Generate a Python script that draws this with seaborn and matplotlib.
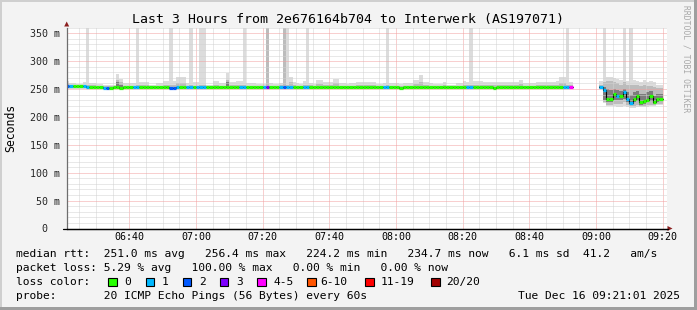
import numpy as np
import pandas as pd
import matplotlib
matplotlib.use("Agg")
import matplotlib.pyplot as plt
import seaborn as sns
from matplotlib.patches import Rectangle, Polygon
from matplotlib.ticker import MultipleLocator

nan = np.nan

# ---------------- data (one bin per minute, first bin starts 06:21) ----------------
first_minute = 21  # minutes after 06:00

median = [
    255, 255, 255, 255, 255, 255, 254, 253, 253, 253,
    253, 252, 252, 252, 253, 253, 252, 253, 253, 253,
    253, 253, 253, 253, 253, 253, 253, 253, 253, 253,
    253, 252, 252, 253, 253, 253, 253, 253, 253, 253,
    253, 253, 253, 253, 253, 253, 253, 253, 254, 253,
    253, 253, 253, 253, 253, 253, 253, 253, 253, 253,
    253, 253, 253, 253, 253, 253, 253, 253, 253, 253,
    253, 253, 253, 253, 253, 253, 253, 253, 253, 253,
    254, 254, 254, 253, 254, 253, 254, 253, 253, 253,
    253, 253, 253, 253, 253, 253, 253, 253, 253, 253,
    252, 253, 253, 253, 253, 253, 253, 253, 253, 253,
    253, 253, 254, 254, 253, 253, 253, 253, 253, 253,
    253, 253, 253, 253, 253, 253, 253, 253, 252, 253,
    253, 253, 253, 253, 253, 253, 253, 253, 254, 254,
    253, 253, 253, 253, 253, 253, 253, 253, 253, 253,
    253, 253, nan, nan, nan, nan, nan, nan, nan, nan,
    254, 249, 232, 232, 241, 238, 238, 245, 232, 225,
    232, 237, 227, 229, 231, 237, 227, 233, 233,
]

loss = [
    2, 1, 0, 0, 0, 1, 1, 0, 0, 0,
    0, 1, 2, 0, 0, 0, 0, 0, 0, 0,
    1, 1, 0, 0, 0, 0, 0, 0, 0, 0,
    0, 2, 2, 1, 0, 0, 1, 1, 0, 1,
    1, 1, 0, 0, 0, 0, 0, 0, 0, 0,
    0, 0, 1, 1, 0, 0, 0, 0, 0, 1,
    3, 0, 0, 0, 1, 2, 1, 1, 0, 0,
    0, 1, 1, 0, 0, 0, 0, 0, 0, 0,
    0, 0, 0, 0, 0, 0, 0, 0, 0, 0,
    0, 0, 0, 0, 0, 1, 1, 0, 0, 0,
    0, 0, 0, 0, 0, 0, 0, 0, 0, 0,
    0, 0, 0, 0, 0, 0, 0, 0, 0, 0,
    1, 1, 0, 0, 0, 0, 0, 0, 0, 0,
    0, 0, 0, 0, 0, 0, 0, 0, 0, 0,
    0, 0, 0, 0, 0, 0, 0, 0, 0, 1,
    1, 4, nan, nan, nan, nan, nan, nan, nan, nan,
    1, 1, 0, 0, 0, 1, 0, 1, 1, 1,
    0, 0, 0, 0, 0, 0, 0, 0, 0,
]

# outer (lightest) smoke band
smoke_hi = [
    265, 261, 261, 259, 259, 263, 360, 261, 261, 259,
    259, 258, 258, 258, 258, 277, 268, 260, 260, 260,
    260, 360, 262, 262, 262, 258, 258, 260, 260, 264,
    264, 360, 264, 272, 272, 272, 261, 360, 262, 262,
    360, 360, 258, 257, 264, 264, 260, 260, 278, 262,
    262, 265, 265, 360, 261, 261, 261, 259, 259, 259,
    360, 260, 259, 259, 261, 360, 360, 272, 262, 261,
    259, 264, 360, 261, 259, 267, 267, 262, 262, 262,
    268, 268, 261, 260, 259, 261, 260, 262, 262, 262,
    263, 263, 263, 259, 259, 261, 360, 261, 261, 261,
    259, 261, 261, 261, 266, 266, 275, 262, 262, 260,
    259, 259, 259, 262, 257, 257, 257, 261, 261, 264,
    262, 360, 265, 265, 265, 263, 263, 263, 262, 262,
    262, 262, 262, 262, 262, 262, 266, 261, 261, 261,
    261, 263, 262, 262, 262, 262, 262, 265, 272, 272,
    360, 262, nan, nan, nan, nan, nan, nan, nan, nan,
    264, 360, 271, 272, 270, 268, 266, 360, 265, 360,
    266, 265, 262, 266, 263, 264, 262, 258, 257,
]
smoke_lo = [
    250, 250, 250, 250, 250, 250, 250, 250, 250, 250,
    250, 250, 250, 250, 250, 250, 250, 250, 250, 250,
    250, 250, 250, 250, 250, 250, 250, 250, 250, 250,
    250, 250, 250, 250, 250, 250, 250, 250, 250, 250,
    250, 250, 250, 250, 250, 250, 250, 250, 250, 250,
    250, 250, 250, 250, 250, 250, 250, 250, 250, 250,
    250, 250, 250, 250, 250, 250, 250, 250, 250, 250,
    250, 250, 250, 250, 250, 250, 250, 250, 250, 250,
    250, 250, 250, 250, 250, 250, 250, 250, 250, 250,
    250, 250, 250, 250, 250, 250, 250, 250, 250, 250,
    250, 250, 250, 250, 250, 250, 250, 250, 250, 250,
    250, 250, 250, 250, 250, 250, 250, 250, 250, 250,
    250, 250, 250, 250, 250, 250, 250, 250, 250, 250,
    250, 250, 250, 250, 250, 250, 250, 250, 250, 250,
    250, 250, 250, 250, 250, 250, 250, 250, 250, 250,
    250, 250, nan, nan, nan, nan, nan, nan, nan, nan,
    250, 225, 220, 219, 219, 218, 218, 219, 218, 216,
    216, 218, 217, 217, 218, 219, 220, 221, 222,
]

# middle smoke band
mid_hi = [
    260, 257, 257, 256, 256, 258, 258, 257, 257, 256,
    256, 256, 256, 256, 256, 266, 262, 256, 256, 256,
    256, 257, 257, 257, 257, 256, 256, 256, 256, 258,
    258, 257, 257, 260, 260, 260, 256, 257, 256, 256,
    257, 257, 256, 256, 258, 258, 256, 256, 266, 257,
    257, 258, 258, 257, 256, 256, 256, 256, 256, 256,
    360, 256, 256, 256, 257, 360, 258, 262, 257, 256,
    256, 258, 258, 257, 256, 259, 259, 257, 257, 257,
    260, 260, 256, 256, 256, 256, 256, 257, 257, 257,
    257, 257, 257, 256, 256, 256, 257, 256, 256, 256,
    256, 256, 256, 256, 259, 259, 262, 257, 257, 256,
    256, 256, 256, 257, 256, 256, 256, 256, 256, 258,
    257, 257, 258, 258, 258, 257, 257, 257, 257, 257,
    257, 257, 257, 257, 257, 257, 259, 256, 256, 256,
    256, 257, 257, 257, 257, 257, 257, 258, 260, 260,
    257, 257, nan, nan, nan, nan, nan, nan, nan, nan,
    258, 262, 264, 265, 262, 260, 258, 262, 258, 258,
    258, 258, 256, 258, 256, 256, 254, 252, 251,
]
mid_lo = [
    251, 251, 251, 251, 251, 251, 251, 251, 251, 251,
    251, 251, 251, 251, 251, 251, 251, 251, 251, 251,
    251, 251, 251, 251, 251, 251, 251, 251, 251, 251,
    251, 251, 251, 251, 251, 251, 251, 251, 251, 251,
    251, 251, 251, 251, 251, 251, 251, 251, 251, 251,
    251, 251, 251, 251, 251, 251, 251, 251, 251, 251,
    251, 251, 251, 251, 251, 251, 251, 251, 251, 251,
    251, 251, 251, 251, 251, 251, 251, 251, 251, 251,
    251, 251, 251, 251, 251, 251, 251, 251, 251, 251,
    251, 251, 251, 251, 251, 251, 251, 251, 251, 251,
    251, 251, 251, 251, 251, 251, 251, 251, 251, 251,
    251, 251, 251, 251, 251, 251, 251, 251, 251, 251,
    251, 251, 251, 251, 251, 251, 251, 251, 251, 251,
    251, 251, 251, 251, 251, 251, 251, 251, 251, 251,
    251, 251, 251, 251, 251, 251, 251, 251, 251, 251,
    251, 251, nan, nan, nan, nan, nan, nan, nan, nan,
    250, 226, 222, 222, 224, 224, 224, 226, 222, 220,
    220, 222, 220, 220, 222, 222, 222, 224, 224,
]

# dark core (only visible in the last, noisier segment)
dark_lo = [nan] * 15 + [251, 251] + [nan] * 31 + [251] + [nan] * 111 + [
    252, 230, 226, 226, 230, 230, 230, 232, 226, 222,
    226, 228, 222, 224, 226, 228, 224, 226, 228,
]
dark_hi = [nan] * 15 + [262, 258] + [nan] * 31 + [262] + [nan] * 111 + [
    256, 254, 250, 248, 250, 248, 246, 250, 245, 240,
    244, 246, 242, 242, 244, 246, 238, 242, 242,
]

loss_labels = ["0", "1", "2", "3", "4-5", "6-10", "11-19", "20/20"]
loss_colors = ["#26ff00", "#00b8ff", "#0059ff", "#7e00ff",
               "#ff00ff", "#ff5500", "#ff0000", "#a10000"]

tick_minutes = [40, 60, 80, 100, 120, 140, 160, 180, 200]
tick_labels = ["06:40", "07:00", "07:20", "07:40", "08:00",
               "08:20", "08:40", "09:00", "09:20"]
y_ticks = [0, 50, 100, 150, 200, 250, 300, 350]
y_labels = ["0  ", "50 m", "100 m", "150 m", "200 m", "250 m", "300 m", "350 m"]

title = "Last 3 Hours from 2e676164b704 to Interwerk (AS197071)"
legend_rows = [
    "median rtt:  251.0 ms avg   256.4 ms max   224.2 ms min   234.7 ms now   6.1 ms sd  41.2   am/s",
    "packet loss: 5.29 % avg   100.00 % max   0.00 % min   0.00 % now",
    "loss color:",
    "probe:       20 ICMP Echo Pings (56 Bytes) every 60s",
]
stamp = "Tue Dec 16 09:21:01 2025"

# ---------------- build table ----------------
n = len(median)
df = pd.DataFrame({
    "t": first_minute + np.arange(n, dtype=float),
    "median": median, "loss": loss,
    "smoke_lo": smoke_lo, "smoke_hi": smoke_hi,
    "mid_lo": mid_lo, "mid_hi": mid_hi,
    "dark_lo": dark_lo, "dark_hi": dark_hi,
})

def bucket(v):
    v = int(v)
    if v <= 3:
        return v
    if v <= 5:
        return 4
    if v <= 10:
        return 5
    if v <= 19:
        return 6
    return 7

# ---------------- style ----------------
sns.set_theme(style="white")
plt.rcParams["font.family"] = ["DejaVu Sans Mono"]

W, H = 697, 310
BACK = "#f3f3f3"
SHADEA = "#cfcfcf"
SHADEB = "#9e9e9e"
GRID = "#d2d2d2"
MGRID = "#f2a0a0"
ARROW = "#8b1e1e"

fig = plt.figure(figsize=(W / 100, H / 100), dpi=100, facecolor=BACK)
for (x, y, w, h, c) in [(0, 1 - 2 / H, 1, 2 / H, SHADEA), (0, 0, 2 / W, 1, SHADEA),
                        (0, 0, 1, 3 / H, SHADEB), (1 - 3 / W, 0, 3 / W, 1, SHADEB)]:
    fig.patches.append(Rectangle((x, y), w, h, transform=fig.transFigure,
                                 facecolor=c, edgecolor="none", zorder=0))

ax_left, ax_right = 66.7, 666.7
ax_top, ax_bot = 27.7, 228.5
ax = fig.add_axes([ax_left / W, (H - ax_bot) / H, (ax_right - ax_left) / W,
                   (ax_bot - ax_top) / H])
ax.set_facecolor("white")

# smoke
for lo, hi, col in [("smoke_lo", "smoke_hi", "#dcdcdc"),
                    ("mid_lo", "mid_hi", "#bcbcbc"),
                    ("dark_lo", "dark_hi", "#7c7c7c")]:
    d = df.dropna(subset=[lo, hi])
    ax.bar(d["t"], d[hi] - d[lo], bottom=d[lo], width=1.0, align="edge",
           color=col, linewidth=0, antialiased=False, zorder=1)

# black median step line (per contiguous segment)
valid = df["median"].notna()
seg = (valid != valid.shift()).cumsum()
rows = []
for s, g in df[valid].groupby(seg[valid]):
    for t, m in zip(g["t"], g["median"]):
        rows.append((s, t, m))
    rows.append((s, g["t"].iloc[-1] + 1, g["median"].iloc[-1]))
line_df = pd.DataFrame(rows, columns=["seg", "t", "median"])
sns.lineplot(data=line_df, x="t", y="median", units="seg", estimator=None,
             drawstyle="steps-post", color="#000000", linewidth=0.8,
             ax=ax, legend=False, zorder=3)

# coloured median segments by loss
d = df[valid]
cols = [loss_colors[bucket(v)] for v in d["loss"]]
ax.hlines(d["median"], d["t"], d["t"] + 1, colors=cols, linewidth=2.3, zorder=4)

# axes, grid
ax.set_xlim(first_minute + 0.2, first_minute + 180.2)
ax.set_ylim(0, 360)
ax.set_xticks(tick_minutes)
ax.set_xticklabels(tick_labels)
ax.xaxis.set_minor_locator(MultipleLocator(5))
ax.set_yticks(y_ticks)
ax.set_yticklabels(y_labels)
ax.yaxis.set_minor_locator(MultipleLocator(10))
ax.set_axisbelow(False)
ax.grid(True, which="minor", color=GRID, linestyle=(0, (1, 1)), linewidth=0.72, zorder=2)
ax.grid(True, which="major", color=MGRID, linestyle=(0, (1, 1)), linewidth=0.72, zorder=2)
ax.set_xlabel("")
ax.set_ylabel("")
ax.tick_params(axis="x", which="major", length=2.2, width=0.72, color="black",
               direction="out", pad=0.6, labelsize=7.2, colors="black")
ax.tick_params(axis="x", which="minor", length=0)
ax.tick_params(axis="y", which="both", length=0, pad=4.8, labelsize=7.2)
for s in ["top", "right"]:
    ax.spines[s].set_visible(False)
ax.spines["left"].set_color("#6e6e6e")
ax.spines["left"].set_linewidth(0.9)
ax.spines["bottom"].set_color("#000000")
ax.spines["bottom"].set_linewidth(0.9)
ax.spines["left"].set_zorder(5)
ax.spines["bottom"].set_zorder(5)

def fx(px):
    return px / W

def fy(py):
    return 1 - py / H

# axis extension and arrows
fig.lines.append(plt.Line2D([fx(63), fx(668)], [fy(228.5), fy(228.5)], color="black",
                            linewidth=0.9, transform=fig.transFigure))
fig.patches.append(Polygon([(fx(64.2), fy(26.5)), (fx(69.2), fy(26.5)), (fx(66.7), fy(21.5))],
                           closed=True, transform=fig.transFigure, facecolor=ARROW,
                           edgecolor="none"))
fig.patches.append(Polygon([(fx(667.5), fy(226)), (fx(667.5), fy(231)), (fx(672.5), fy(228.5))],
                           closed=True, transform=fig.transFigure, facecolor=ARROW,
                           edgecolor="none"))

# texts
fig.text(fx(348.5), fy(19), title, ha="center", va="center", fontsize=9.5, color="black")
fig.text(fx(11), fy(127.5), "Seconds", rotation=90, ha="center", va="center",
         fontsize=8.3, color="black")
fig.text(fx(686), fy(58.5), "RRDTOOL / TOBI OETIKER", rotation=270, ha="center",
         va="center", fontsize=5.8, color="#a8a8a8")

row_y = [254, 268, 282, 296]
for txt, y in zip(legend_rows, row_y):
    fig.text(fx(16), fy(y), txt, ha="left", va="center", fontsize=8.07, color="black")
fig.text(fx(680), fy(296), stamp, ha="right", va="center", fontsize=8.07, color="black")

box_x = [108, 145.7, 182.7, 220, 257.3, 307.3, 365, 431]
lab_x = [124, 161.7, 199, 236.7, 273.3, 320, 380.7, 445.7]
for bx, lx, lab, col in zip(box_x, lab_x, loss_labels, loss_colors):
    fig.patches.append(Rectangle((fx(bx), fy(286)), 8.5 / W, 8.5 / H,
                                 transform=fig.transFigure, facecolor=col,
                                 edgecolor="black", linewidth=0.8))
    fig.text(fx(lx), fy(row_y[2]), lab, ha="left", va="center", fontsize=8.07,
             color="black")

fig.savefig("out.png", dpi=100, facecolor=BACK)
